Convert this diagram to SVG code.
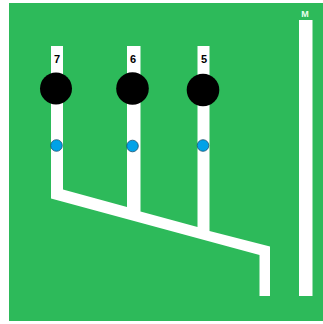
<svg xmlns="http://www.w3.org/2000/svg" width="323" height="324" viewBox="0 0 323 324">
<style>
.big{fill:#000}
.small{fill:#00a2e8;stroke:#14506e;stroke-width:.8}
.pipe{fill:#fff}
text{font-family:"Liberation Sans",Arial,sans-serif;font-weight:bold;font-size:11px;text-anchor:middle}
</style>
<rect x="0" y="0" width="323" height="324" fill="#fff"/>
<rect x="9" y="3" width="314" height="318" fill="#2dba5a"/>
<g id="connectors">
<path class="pipe" d="M51 46H63V189.5L127 207V46H140.500V211.500L197.500 227V46H209.500V231L270 246.500V296H259.500V255L51 198.500Z"/>
<rect class="pipe" x="299" y="20" width="13.500" height="276"/>
</g>
<g id="node-7">
<circle class="big" cx="56" cy="88.500" r="16"/>
<circle class="small" cx="56.500" cy="145.500" r="5.800"/>
<text x="57" y="63">7</text>
</g>
<g id="node-6">
<circle class="big" cx="132.500" cy="88.500" r="16.300"/>
<circle class="small" cx="132.500" cy="146" r="5.800"/>
<text x="133" y="63">6</text>
</g>
<g id="node-5">
<circle class="big" cx="203" cy="90" r="16.300"/>
<circle class="small" cx="203" cy="145.500" r="5.800"/>
<text x="204" y="63">5</text>
</g>
<g id="node-M">
<text x="305" y="17" fill="#e8fff0" style="font-size:9px">M</text>
</g>
</svg>
